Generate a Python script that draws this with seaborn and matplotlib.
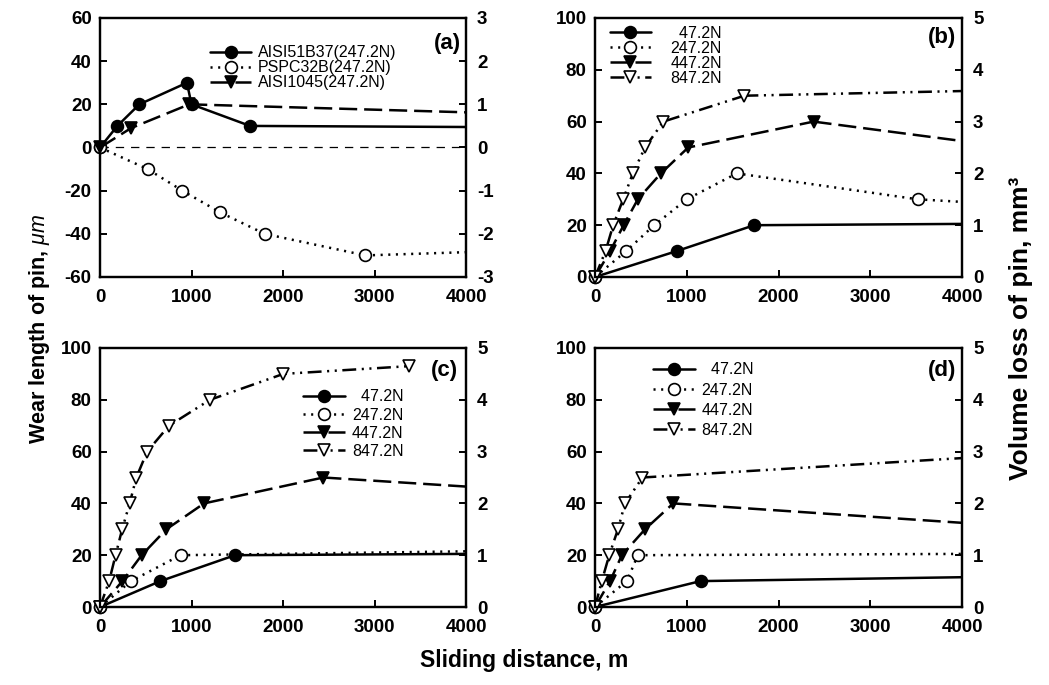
import matplotlib
matplotlib.use("Agg")
import numpy as np
import pandas as pd
import matplotlib.pyplot as plt
import seaborn as sns

# ---------------- data (sliding distance m, wear length um) ----------------
x_max = 4000

# panel (a) - 247.2N, three materials
a51_x = [0, 190, 430, 950, 1000, 1640]
a51_y = [0, 10, 20, 30, 20, 10]
a51_end = 9.5
a32_x = [0, 520, 900, 1310, 1800, 2900]
a32_y = [0, -10, -20, -30, -40, -50]
a32_end = -48.5
a45_x = [0, 340, 975]
a45_y = [0, 9, 20]
a45_end = 16.3
a_labels = ["AISI51B37(247.2N)", "PSPC32B(247.2N)", "AISI1045(247.2N)"]

# panel (b)
b47_x = [0, 890, 1735]
b47_y = [0, 10, 20]
b47_end = 20.5
b247_x = [0, 340, 645, 1000, 1545, 3516]
b247_y = [0, 10, 20, 30, 40, 30]
b247_end = 29
b447_x = [0, 165, 312, 467, 718, 1016, 2382]
b447_y = [0, 10, 20, 30, 40, 50, 60]
b447_end = 52.5
b847_x = [0, 115, 198, 307, 412, 545, 745, 1629]
b847_y = [0, 10, 20, 30, 40, 50, 60, 70]
b847_end = 71.8

# panel (c)
c47_x = [0, 660, 1475]
c47_y = [0, 10, 20]
c47_end = 20.5
c247_x = [0, 339, 880]
c247_y = [0, 10, 20]
c247_end = 21.5
c447_x = [0, 245, 455, 725, 1137, 2441]
c447_y = [0, 10, 20, 30, 40, 50]
c447_end = 46.5
c847_x = [0, 100, 170, 242, 324, 397, 515, 754, 1202, 2004, 3381]
c847_y = [0, 10, 20, 30, 40, 50, 60, 70, 80, 90, 93]
c847_end = None

# panel (d)
d47_x = [0, 1150]
d47_y = [0, 10]
d47_end = 11.5
d247_x = [0, 347, 467]
d247_y = [0, 10, 20]
d247_end = 20.5
d447_x = [0, 164, 293, 545, 853]
d447_y = [0, 10, 20, 30, 40]
d447_end = 32.5
d847_x = [0, 74, 155, 250, 327, 517]
d847_y = [0, 10, 20, 30, 40, 50]
d847_end = 57.5

load_labels = ["  47.2N", "247.2N", "447.2N", "847.2N"]
panel_tags = ["(a)", "(b)", "(c)", "(d)"]

# ---------------- style ----------------
sns.set_theme(style="ticks")
plt.rcParams['font.family'] = ['Liberation Sans', 'DejaVu Sans']
plt.rcParams['mathtext.fontset'] = 'custom'
plt.rcParams['mathtext.rm'] = 'Liberation Sans'
plt.rcParams['mathtext.it'] = 'Liberation Sans:italic'
plt.rcParams['mathtext.bf'] = 'Liberation Sans:bold'
plt.rcParams['lines.scale_dashes'] = False
plt.rcParams['axes.unicode_minus'] = False
plt.rcParams['text.color'] = 'black'
plt.rcParams['axes.labelcolor'] = 'black'
plt.rcParams['xtick.color'] = 'black'
plt.rcParams['ytick.color'] = 'black'
plt.rcParams['axes.edgecolor'] = 'black'

S_SOLID = dict(linestyle='-', marker='o', markerfacecolor='black')
S_DOT = dict(linestyle=(0, (1.5, 4)), marker='o', markerfacecolor='white')
S_DASH = dict(linestyle=(0, (13, 5)), marker='v', markerfacecolor='black')
S_DDOT = dict(linestyle=(0, (10, 4, 1.5, 4, 1.5, 4)), marker='v', markerfacecolor='white')

fig = plt.figure(figsize=(10.49, 6.85), dpi=100)
W, H = 1049, 685


def add_ax(l, r, t, b):
    return fig.add_axes([l / W, 1 - b / H, (r - l) / W, (b - t) / H])


def series(ax, xs, ys, end, label, st, lw=1.8):
    df = pd.DataFrame({'x': xs, 'y': ys})
    sns.lineplot(data=df, x='x', y='y', ax=ax, estimator=None, sort=False,
                 color='black', linewidth=lw, linestyle=st['linestyle'],
                 marker=st['marker'], markersize=8.5,
                 markerfacecolor=st['markerfacecolor'],
                 markeredgecolor='black', markeredgewidth=1.2,
                 label=label, zorder=3, clip_on=False)
    handle = ax.lines[-1]
    if end is not None:
        tail = pd.DataFrame({'x': [xs[-1], x_max], 'y': [ys[-1], end]})
        sns.lineplot(data=tail, x='x', y='y', ax=ax, estimator=None, sort=False,
                     color='black', linewidth=lw, linestyle=st['linestyle'],
                     zorder=2)
    return handle


def style_axes(ax, ylo, yhi, ystep):
    ax.set_xlim(0, x_max)
    ax.set_ylim(ylo, yhi)
    ax.set_xticks(np.arange(0, x_max + 1, 1000))
    ax.set_yticks(np.arange(ylo, yhi + 1, ystep))
    ax.set_xlabel('')
    ax.set_ylabel('')
    for s in ax.spines.values():
        s.set_linewidth(1.6)
        s.set_color('black')
    ax.tick_params(axis='both', direction='in', length=5, width=1.4,
                   labelsize=13.5, colors='black')
    ax.tick_params(axis='x', pad=9)
    ax.tick_params(axis='y', pad=6)
    for lab in ax.get_xticklabels() + ax.get_yticklabels():
        lab.set_fontweight('bold')
    ax2 = ax.twinx()
    ax2.set_ylim(ylo / 20, yhi / 20)
    rt = np.arange(ylo / 20, yhi / 20 + 0.01, ystep / 20)
    ax2.set_yticks(rt)
    ax2.set_yticklabels([f"{int(round(v))}" for v in rt])
    ax2.tick_params(axis='y', direction='in', length=5, width=1.4,
                    labelsize=13.5, pad=8, colors='black')
    for lab in ax2.get_yticklabels():
        lab.set_fontweight('bold')
    for s in ax2.spines.values():
        s.set_linewidth(1.6)
        s.set_color('black')
    return ax2


def add_legend(ax, handles, labels, fx, fy, tpad, lsp):
    ax.legend(handles, labels, loc='upper left', bbox_to_anchor=(fx, fy),
              frameon=False, fontsize=11.5, handlelength=2.6, handletextpad=tpad,
              labelspacing=lsp, borderpad=0, borderaxespad=0, numpoints=1)


# panel boxes in pixels
ax_a = add_ax(100, 466, 18, 277)
ax_b = add_ax(595, 962, 18, 277)
ax_c = add_ax(100, 466, 348, 607)
ax_d = add_ax(595, 962, 348, 607)

# (a)
ax_a.axhline(0, color='black', lw=0.9, linestyle=(0, (6, 5)), zorder=1)
h = [series(ax_a, a51_x, a51_y, a51_end, a_labels[0], S_SOLID),
     series(ax_a, a32_x, a32_y, a32_end, a_labels[1], S_DOT),
     series(ax_a, a45_x, a45_y, a45_end, a_labels[2], S_DASH)]
style_axes(ax_a, -60, 60, 20)
add_legend(ax_a, h, a_labels, 0.30, 0.895, 0.4, 0.0)

# (b)
h = [series(ax_b, b47_x, b47_y, b47_end, load_labels[0], S_SOLID),
     series(ax_b, b247_x, b247_y, b247_end, load_labels[1], S_DOT),
     series(ax_b, b447_x, b447_y, b447_end, load_labels[2], S_DASH),
     series(ax_b, b847_x, b847_y, b847_end, load_labels[3], S_DDOT)]
style_axes(ax_b, 0, 100, 20)
add_legend(ax_b, h, load_labels, 0.04, 0.97, 1.2, 0.0)

# (c)
h = [series(ax_c, c47_x, c47_y, c47_end, load_labels[0], S_SOLID),
     series(ax_c, c247_x, c247_y, c247_end, load_labels[1], S_DOT),
     series(ax_c, c447_x, c447_y, c447_end, load_labels[2], S_DASH),
     series(ax_c, c847_x, c847_y, c847_end, load_labels[3], S_DDOT)]
style_axes(ax_c, 0, 100, 20)
add_legend(ax_c, h, load_labels, 0.555, 0.84, 0.45, 0.2)

# (d)
h = [series(ax_d, d47_x, d47_y, d47_end, load_labels[0], S_SOLID),
     series(ax_d, d247_x, d247_y, d247_end, load_labels[1], S_DOT),
     series(ax_d, d447_x, d447_y, d447_end, load_labels[2], S_DASH),
     series(ax_d, d847_x, d847_y, d847_end, load_labels[3], S_DDOT)]
style_axes(ax_d, 0, 100, 20)
add_legend(ax_d, h, load_labels, 0.158, 0.945, 0.45, 0.33)

# panel tags
for ax, tag, (tx, ty) in zip([ax_a, ax_b, ax_c, ax_d], panel_tags,
                             [(0.948, 0.903), (0.946, 0.925), (0.94, 0.915), (0.946, 0.915)]):
    ax.text(tx, ty, tag, transform=ax.transAxes, ha='center', va='center',
            fontsize=16, fontweight='bold', zorder=5)

fig.text(0.50, 0.036, 'Sliding distance, m', ha='center', va='center',
         fontsize=16.5, fontweight='bold')
fig.text(0.038, 0.52, r'Wear length of pin, $\mathit{\mu m}$', ha='center', va='center',
         rotation=90, fontsize=15.5, fontweight='bold')
fig.text(0.973, 0.521, 'Volume loss of pin, mm³', ha='center', va='center',
         rotation=90, fontsize=19, fontweight='bold')

fig.savefig('out.png', dpi=100)
